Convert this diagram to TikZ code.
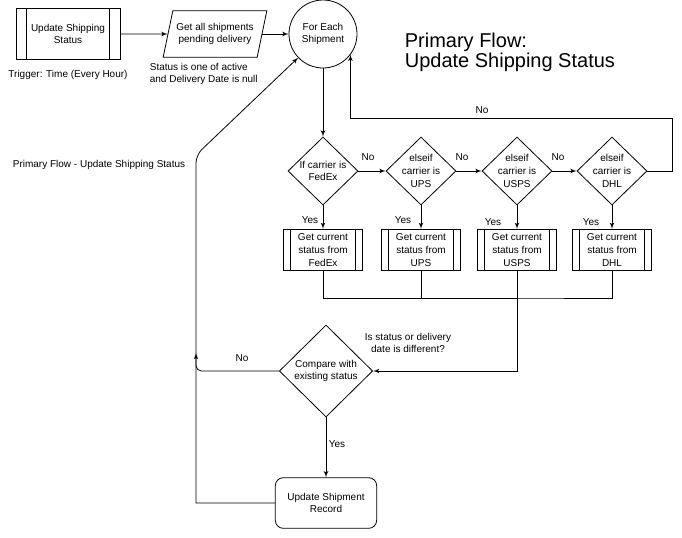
\documentclass[tikz,border=0pt]{standalone}
\usepackage{fontspec}
\setmainfont{Liberation Sans}
\usetikzlibrary{shapes.geometric, arrows}

\begin{document}
\begin{tikzpicture}[x=0.75pt, y=-0.75pt, line width=0.6pt,
  every node/.style={font=\fontsize{7.5}{9.5}\selectfont, align=center},
  flow/.style={draw},
  subproc/.style={flow, rectangle, inner sep=1pt,
    path picture={\draw ([xshift=#1]path picture bounding box.north west) -- ([xshift=#1]path picture bounding box.south west)
      ([xshift=-#1]path picture bounding box.north east) -- ([xshift=-#1]path picture bounding box.south east);}},
  subproc/.default=5pt,
  carrierbox/.style={subproc, minimum width=59pt, minimum height=31pt},
  decision/.style={flow, diamond, inner sep=-3pt, minimum width=52.5pt, minimum height=51pt},
  arr/.style={-latex'}]
\useasboundingbox (0,0) rectangle (682,537);
\node[subproc=8pt, minimum width=78pt, minimum height=38pt] (trig) at (68,34) {Update Shipping\\Status};
\node[flow, trapezium, trapezium left angle=68, trapezium right angle=112, trapezium stretches,
  minimum width=78pt, minimum height=35pt, inner sep=0pt] (fetch) at (215,34) {Get all shipments\\pending delivery};
\node[flow, circle, minimum size=51pt, inner sep=0pt] (each) at (323,34) {For Each\\Shipment};
\node (trigtxt) at (68,75) {Trigger: Time (Every Hour)};
\node[anchor=west, align=left] (filter) at (145,74) {Status is one of active\\and Delivery Date is null};
\node[anchor=west, align=left, font=\fontsize{15}{15}\selectfont] (title) at (400,52) {Primary Flow:\\Update Shipping Status};
\node[anchor=west] (flowname) at (8,165) {Primary Flow - Update Shipping Status};

\node[decision] (fedex) at (323,171) {If carrier is\\FedEx};
\node[decision] (ups) at (421,171) {elseif\\carrier is\\UPS};
\node[decision] (usps) at (517,171) {elseif\\carrier is\\USPS};
\node[decision] (dhl) at (612,171) {elseif\\carrier is\\DHL};
\node[carrierbox] (fedexbox) at (323,250) {Get current\\status from\\FedEx};
\node[carrierbox] (upsbox) at (421,250) {Get current\\status from\\UPS};
\node[carrierbox] (uspsbox) at (517,250) {Get current\\status from\\USPS};
\node[carrierbox] (dhlbox) at (612,250) {Get current\\status from\\DHL};
\node (no1) at (368,157) {No};
\node (no2) at (462,157) {No};
\node (no3) at (558,157) {No};
\node (noloop) at (482,110) {No};
\node (yes1) at (310,220) {Yes};
\node (yes2) at (403,220) {Yes};
\node (yes3) at (493,222) {Yes};
\node (yes4) at (591,222) {Yes};

\node[decision, minimum width=70pt, minimum height=69pt] (cmp) at (326,371) {Compare with\\existing status};
\node (diffq) at (408,343) {Is status or delivery\\date is different?};
\node (nocmp) at (242,358) {No};
\node (yescmp) at (337,444) {Yes};
\node[flow, rounded corners=6pt, minimum width=76pt, minimum height=38pt] (rec) at (326,503) {Update Shipment\\Record};
\coordinate (merge) at (517,298);

\draw[arr] (trig) -- (fetch);
\draw[arr] (fetch) -- (each);
\draw[arr] (each) -- (fedex);
\draw[arr] (fedex) -- (ups);
\draw[arr] (ups) -- (usps);
\draw[arr] (usps) -- (dhl);
\draw[arr] (dhl.east) -| (672,118) -| (each.-37);
\draw[arr] (fedex) -- (fedexbox);
\draw[arr] (ups) -- (upsbox);
\draw[arr] (usps) -- (uspsbox);
\draw[arr] (dhl) -- (dhlbox);
\draw (fedexbox.south) |- (merge) -| (dhlbox.south);
\draw (upsbox.south) |- (merge);
\draw[arr] (uspsbox.south) |- (cmp.east);
\draw[arr] (cmp) -- (rec);
\draw[arr, rounded corners=4pt] (cmp.west) -| (196,353);
\draw[arr] (rec.west) -- (196,503) [rounded corners=6pt] -- (196,155) -- (each);
\end{tikzpicture}
\end{document}
